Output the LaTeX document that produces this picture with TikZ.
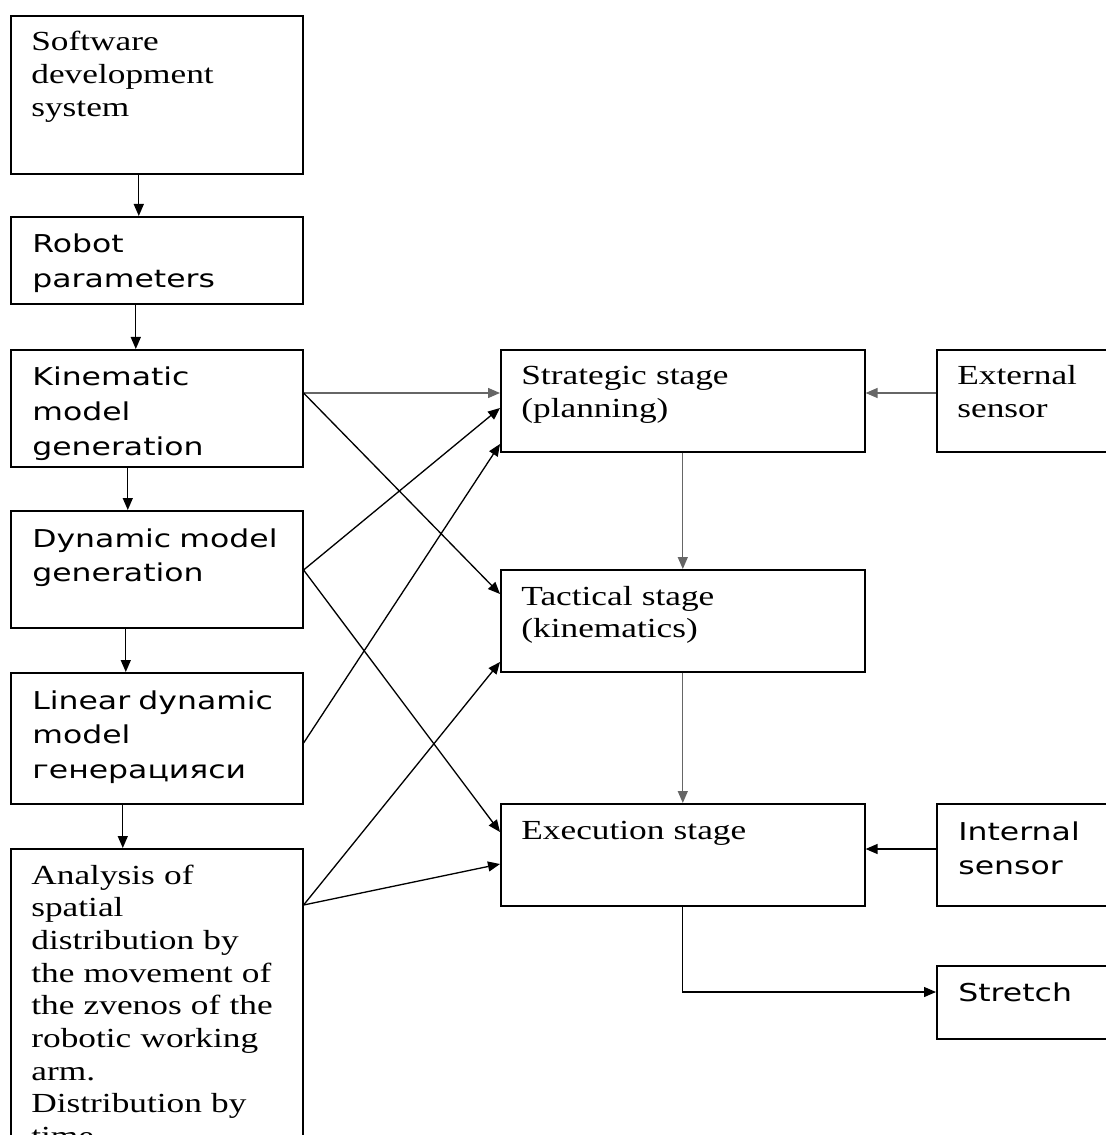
\documentclass[tikz,border=0pt]{standalone}
\usepackage{fontspec}
\setmainfont{Liberation Serif}[FakeStretch=1.28]
\newfontfamily\dinfont{DejaVu Sans}[FakeStretch=1.28]
\usetikzlibrary{arrows.meta}
\newcommand{\bigserif}{\fontsize{15.7pt}{18.6pt}\selectfont}
\newcommand{\bigsans}{\dinfont\fontsize{14pt}{19.9pt}\selectfont}
\begin{document}
\begin{tikzpicture}[
	>={Triangle[length=0.24cm,width=0.2cm]},
	blk/.style={draw, line width=0.9pt, anchor=north west, inner sep=0pt},
	leftbox/.style={blk, minimum width=5.84cm},
	rightbox/.style={blk, minimum width=7.28cm, minimum height=2.04cm},
	sidebox/.style={blk, minimum width=4cm},
	sertxt/.style={anchor=base west, inner sep=0pt, text width=7cm, align=left, font=\bigserif},
	santxt/.style={anchor=base west, inner sep=0pt, text width=7cm, align=left, font=\bigsans},
	link/.style={->, line width=0.75pt},
	greylink/.style={link, draw=black!60}]
		\useasboundingbox (0,0) rectangle (22.1,-22.7);
		
		%left column
		\node[leftbox, minimum height=3.16cm] (soft) at (0.2,-0.3){};
		\node[leftbox, minimum height=1.74cm] (robot) at (0.2,-4.32){};
		\node[leftbox, minimum height=2.34cm] (kin) at (0.2,-6.98){};
		\node[leftbox, minimum height=2.34cm] (dyn) at (0.2,-10.2){};
		\node[leftbox, minimum height=2.62cm] (lin) at (0.2,-13.44){};
		\node[leftbox, minimum height=6.5cm] (ana) at (0.2,-16.96){};
		
		\node[sertxt] (softtxt) at ([shift={(0.42,-0.72)}]soft.north west){Software\\development\\system};
		\node[santxt] (robottxt) at ([shift={(0.44,-0.74)}]robot.north west){Robot\\parameters};
		\node[santxt] (kintxt) at ([shift={(0.44,-0.74)}]kin.north west){Kinematic\\model\\generation};
		\node[santxt] (dyntxt) at ([shift={(0.44,-0.74)}]dyn.north west){Dynamic model\\generation};
		\node[santxt] (lintxt) at ([shift={(0.44,-0.74)}]lin.north west){Linear dynamic\\model\\генерацияси};
		\node[sertxt] (anatxt) at ([shift={(0.42,-0.72)}]ana.north west){Analysis of\\spatial\\distribution by\\the movement of\\the zvenos of the\\robotic working\\arm.\\Distribution by\\time};
		
		%stages
		\node[rightbox] (strat) at (10,-6.98){};
		\node[rightbox] (tact) at (10,-11.38){};
		\node[rightbox] (exec) at (10,-16.06){};
		\node[sertxt] (strattxt) at ([shift={(0.42,-0.72)}]strat.north west){Strategic stage\\(planning)};
		\node[sertxt] (tacttxt) at ([shift={(0.42,-0.72)}]tact.north west){Tactical stage\\(kinematics)};
		\node[sertxt] (exectxt) at ([shift={(0.42,-0.72)}]exec.north west){Execution stage};
		
		%sensors and output
		\node[sidebox, minimum height=2.04cm] (ext) at (18.72,-6.98){};
		\node[sidebox, minimum height=2.04cm] (int) at (18.72,-16.06){};
		\node[sidebox, minimum height=1.46cm] (str) at (18.72,-19.3){};
		\node[sertxt] (exttxt) at ([shift={(0.42,-0.72)}]ext.north west){External\\sensor};
		\node[santxt] (inttxt) at ([shift={(0.44,-0.74)}]int.north west){Internal\\sensor};
		\node[santxt] (strtxt) at ([shift={(0.44,-0.72)}]str.north west){Stretch};
		
		%down the left column
		\draw[link] ([xshift=-0.36cm]soft.south) -- ([xshift=-0.36cm]robot.north);
		\draw[link] ([xshift=-0.42cm]robot.south) -- ([xshift=-0.42cm]kin.north);
		\draw[link] ([xshift=-0.58cm]kin.south) -- ([xshift=-0.58cm]dyn.north);
		\draw[link] ([xshift=-0.62cm]dyn.south) -- ([xshift=-0.62cm]lin.north);
		\draw[link] ([xshift=-0.68cm]lin.south) -- ([xshift=-0.68cm]ana.north);
		
		%models to stages
		\draw[greylink] ([yshift=-0.88cm]kin.north east) -- ([yshift=-0.88cm]strat.north west);
		\draw[link] ([yshift=-0.88cm]kin.north east) -- ([yshift=-0.5cm]tact.north west);
		\draw[link] ([yshift=-1.2cm]dyn.north east) -- ([yshift=-1.18cm]strat.north west);
		\draw[link] ([yshift=-1.2cm]dyn.north east) -- ([yshift=-0.58cm]exec.north west);
		\draw[link] ([yshift=-1.42cm]lin.north east) -- ([yshift=-1.9cm]strat.north west);
		\draw[link] ([yshift=-1.14cm]ana.north east) -- ([yshift=-1.86cm]tact.north west);
		\draw[link] ([yshift=-1.14cm]ana.north east) -- ([yshift=-1.22cm]exec.north west);
		
		%stage chain
		\draw[greylink] (strat.south) -- (tact.north);
		\draw[greylink] (tact.south) -- (exec.north);
		\draw[greylink] ([yshift=-0.88cm]ext.north west) -- ([yshift=-0.88cm]strat.north east);
		\draw[link] ([yshift=-0.92cm]int.north west) -- ([yshift=-0.92cm]exec.north east);
		\draw[link] (exec.south) |- ([yshift=-0.54cm]str.north west);
\end{tikzpicture}
\end{document}
